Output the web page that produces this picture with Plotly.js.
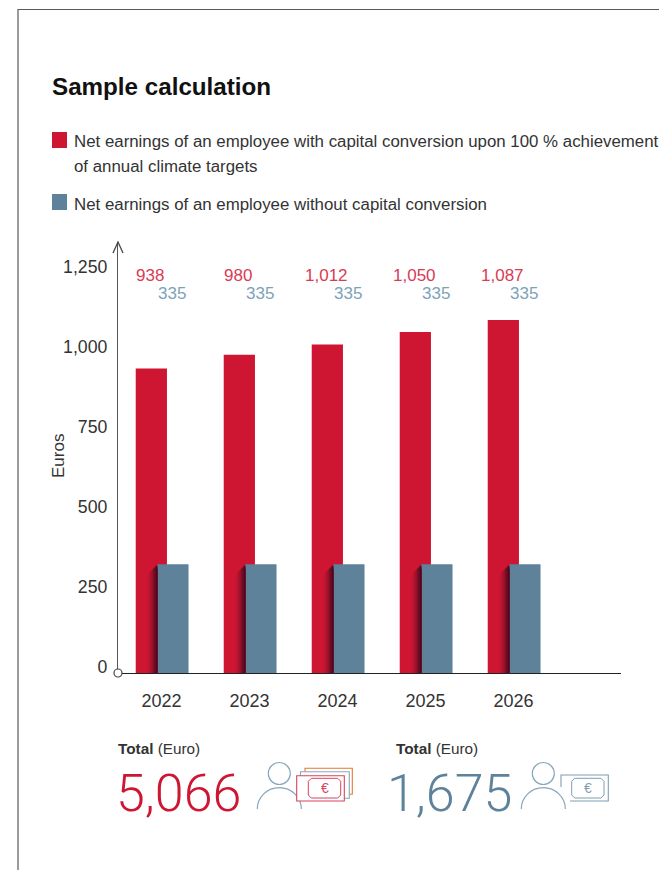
<!DOCTYPE html>
<html>
<head>
<meta charset="utf-8">
<script src="https://cdn.plot.ly/plotly-3.0.1.min.js"></script>
<style>html,body{margin:0;padding:0;background:#fff}#chart{width:659px;height:870px}</style>
</head>
<body>
<div id="chart"></div>
<script>
// Earnings per year
const years = [2022, 2023, 2024, 2025, 2026];
const withConversion = [938, 980, 1012, 1050, 1087];
const withoutConversion = [335, 335, 335, 335, 335];
const yTickLabels = ['0', '250', '500', '750', '1,000', '1,250'];
const yTickPositions = [18, 265, 511, 758, 1004, 1250];

const titleText = 'Sample calculation';
const legendRedLines = ['Net earnings of an employee with capital conversion upon 100 % achievement', 'of annual climate targets'];
const legendBlue = 'Net earnings of an employee without capital conversion';
const totalWith = '5,066';
const totalWithout = '1,675';

const RED = '#CE1633', BLUE = '#5E829A';
const RED_TEXT = '#D93A55', BLUE_TEXT = '#7FA2B8', INK = '#333333';
const FONT = '"Liberation Sans", Arial, sans-serif';

// Plot frame in page pixels
const W = 659, H = 870, L = 118, R = 621, T = 242, B = 673;
const px = x => (x - L) / (R - L);
const py = y => (B - y) / (B - T);

const barWidth = 0.355, redOffset = -0.293, blueOffset = -0.048;
const xMin = 2022 - 43.5 / 88, xMax = xMin + (R - L) / 88;

const shapes = [];
const annotations = [];
const pageLine = (d, color, width, fill) => shapes.push({
  type: 'path', xref: 'paper', yref: 'paper', path: d,
  line: {color: color, width: width || 1}, fillcolor: fill || 'rgba(0,0,0,0)'
});
const P = (x, y) => px(x) + ' ' + py(y);
const rectPath = (x0, y0, x1, y1) => `M${P(x0, y0)} L${P(x1, y0)} L${P(x1, y1)} L${P(x0, y1)} Z`;
// Annotation boxes carry 2px of padding, taken off left-anchored text
const text = (x, y, t, size, color, anchor, extra) => annotations.push(Object.assign({
  xref: 'paper', yref: 'paper', x: px(anchor ? x : x - 2), y: py(y), text: t, showarrow: false,
  xanchor: anchor || 'left', yanchor: 'middle', align: 'left',
  font: {family: FONT, size: size, color: color}
}, extra || {}));

// Page frame: top and left rules
pageLine(`M${P(18, 870)} L${P(18, 9.5)} L${P(659, 9.5)}`, '#5a5a5a', 1.2);

// Heading and key
text(52, 86, '<b>' + titleText + '</b>', 24.2, '#111111');
pageLine(rectPath(52, 132, 67, 148), 'rgba(0,0,0,0)', 0, RED);
pageLine(rectPath(52, 194, 67, 210), 'rgba(0,0,0,0)', 0, BLUE);
text(74, 141, legendRedLines[0], 16.85, INK);
text(74, 166, legendRedLines[1], 16.85, INK);
text(74, 204, legendBlue, 16.85, INK);

// Axis title
text(58, 456, 'Euros', 17, INK, 'center', {textangle: -90});

// Soft shadow the blue bars cast on the red ones
const shadeSteps = 11;
years.forEach((yr, i) => {
  for (let s = 0; s < shadeSteps; s++) {
    const t = Math.pow(s / (shadeSteps - 1), 1.5);
    const r = Math.round(206 + (70 - 206) * t);
    const g = Math.round(22 + (10 - 22) * t);
    const b = Math.round(51 + (32 - 51) * t);
    shapes.push({
      type: 'rect', xref: 'x', yref: 'y', layer: 'above',
      x0: yr + blueOffset - (shadeSteps - s) * 0.0115, x1: yr + blueOffset,
      y0: 0, y1: withoutConversion[i] - (shadeSteps - s) * 3.1,
      line: {width: 0}, fillcolor: `rgb(${r},${g},${b})`
    });
  }
});

// Arrowhead on the value axis
pageLine(`M${P(L - 5, T + 11)} L${P(L, T)} L${P(L + 5, T + 11)}`, '#444444', 1.3);

// Hollow circle marking the origin
shapes.push({
  type: 'circle', xref: 'paper', yref: 'paper',
  x0: px(L - 4), x1: px(L + 4), y0: py(B + 4), y1: py(B - 4),
  line: {color: '#444444', width: 1.2}, fillcolor: '#ffffff'
});

// Bar value labels
years.forEach((yr, i) => {
  annotations.push({
    xref: 'x', yref: 'y', x: yr + redOffset + barWidth / 2 - 0.01, y: 1223, showarrow: false,
    text: withConversion[i].toLocaleString('en-US'), xanchor: 'center', yanchor: 'middle',
    font: {family: FONT, size: 17, color: RED_TEXT}
  });
  annotations.push({
    xref: 'x', yref: 'y', x: yr + blueOffset + barWidth / 2 - 0.012, y: 1170, showarrow: false,
    text: String(withoutConversion[i]), xanchor: 'center', yanchor: 'middle',
    font: {family: FONT, size: 17, color: BLUE_TEXT}
  });
});

// Totals
text(118, 748, '<b>Total</b> (Euro)', 15.3, INK);
text(396, 748, '<b>Total</b> (Euro)', 15.3, INK);
const bigNumber = (x, t, color) => annotations.push({
  xref: 'paper', yref: 'paper', x: px(x), y: py(793), text: t, showarrow: false,
  xanchor: 'left', yanchor: 'middle',
  font: {family: 'Roboto, ' + FONT, size: 52, weight: 300, color: color}
});
bigNumber(114, totalWith, RED);
bigNumber(385, totalWithout, BLUE);

// Person pictogram
const PERSON = '#8AA8BB';
function person(cx) {
  shapes.push({
    type: 'circle', xref: 'paper', yref: 'paper',
    x0: px(cx - 11), x1: px(cx + 11), y0: py(784.5), y1: py(762.5),
    line: {color: PERSON, width: 1.2}
  });
  const hw = 22, h = 21.3, kx = hw * 0.5523, ky = h * 0.5523, base = 809;
  pageLine(`M${P(cx - hw, base)} C${P(cx - hw, base - ky)} ${P(cx - kx, base - h)} ${P(cx, base - h)} ` +
           `C${P(cx + kx, base - h)} ${P(cx + hw, base - ky)} ${P(cx + hw, base)}`, PERSON, 1.2);
}
function plate(x0, y0, x1, y1, c, color) {
  pageLine(`M${P(x0 + c, y0)} L${P(x1 - c, y0)} L${P(x1, y0 + c)} L${P(x1, y1 - c)} L${P(x1 - c, y1)} ` +
           `L${P(x0 + c, y1)} L${P(x0, y1 - c)} L${P(x0, y0 + c)} Z`, color, 1);
}

// Banknote stack pictogram
person(279.3);
pageLine(rectPath(305, 768.3, 352.3, 794.3), '#E8772E', 1.1, '#ffffff');
pageLine(rectPath(300.5, 771.7, 349.3, 798.3), '#8AA8BB', 1.1, '#ffffff');
pageLine(rectPath(296.7, 775.7, 344.3, 801), '#D6435C', 1.1, '#ffffff');
plate(308.3, 778.3, 340.7, 798, 3, '#D6435C');
text(324.5, 788, '€', 14, '#D6435C', 'center');

// Single banknote pictogram
person(543.3);
pageLine(`M${P(561, 787)} L${P(561, 775)} L${P(608.3, 775)} L${P(608.3, 801)} L${P(570, 801)}`, '#7F9DB2', 1.1);
plate(571.7, 778.3, 604, 798, 3, '#7F9DB2');
text(587.5, 788, '€', 14, '#7F9DB2', 'center');

const traces = [
  {
    type: 'bar', name: 'With capital conversion', x: years, y: withConversion,
    width: barWidth, offset: redOffset, marker: {color: RED, line: {width: 0}}, hoverinfo: 'x+y'
  },
  {
    type: 'bar', name: 'Without capital conversion', x: years, y: withoutConversion,
    width: barWidth, offset: blueOffset, marker: {color: BLUE, line: {width: 0}}, hoverinfo: 'x+y'
  }
];

const layout = {
  width: W, height: H, autosize: false, showlegend: false, barmode: 'overlay',
  paper_bgcolor: '#ffffff', plot_bgcolor: '#ffffff', dragmode: false,
  margin: {l: L, r: W - R, t: T, b: H - B, pad: 0},
  font: {family: FONT, color: INK},
  xaxis: {
    range: [xMin, xMax], tickmode: 'array', tickvals: years, ticktext: years.map(String),
    showgrid: false, zeroline: false, showline: true, linecolor: '#222222', linewidth: 1.2,
    ticks: 'outside', ticklen: 11, tickcolor: 'rgba(0,0,0,0)', tickfont: {family: FONT, size: 18, color: INK}
  },
  yaxis: {
    range: [0, (B - T) / 0.3247], tickmode: 'array', tickvals: yTickPositions, ticktext: yTickLabels,
    showgrid: false, zeroline: false, showline: true, linecolor: '#555555', linewidth: 1.2,
    ticks: 'outside', ticklen: 6, tickcolor: 'rgba(0,0,0,0)', tickfont: {family: FONT, size: 17.7, color: INK}
  },
  shapes: shapes,
  annotations: annotations
};

Plotly.newPlot('chart', traces, layout, {displayModeBar: false, responsive: false});
</script>
</body>
</html>
